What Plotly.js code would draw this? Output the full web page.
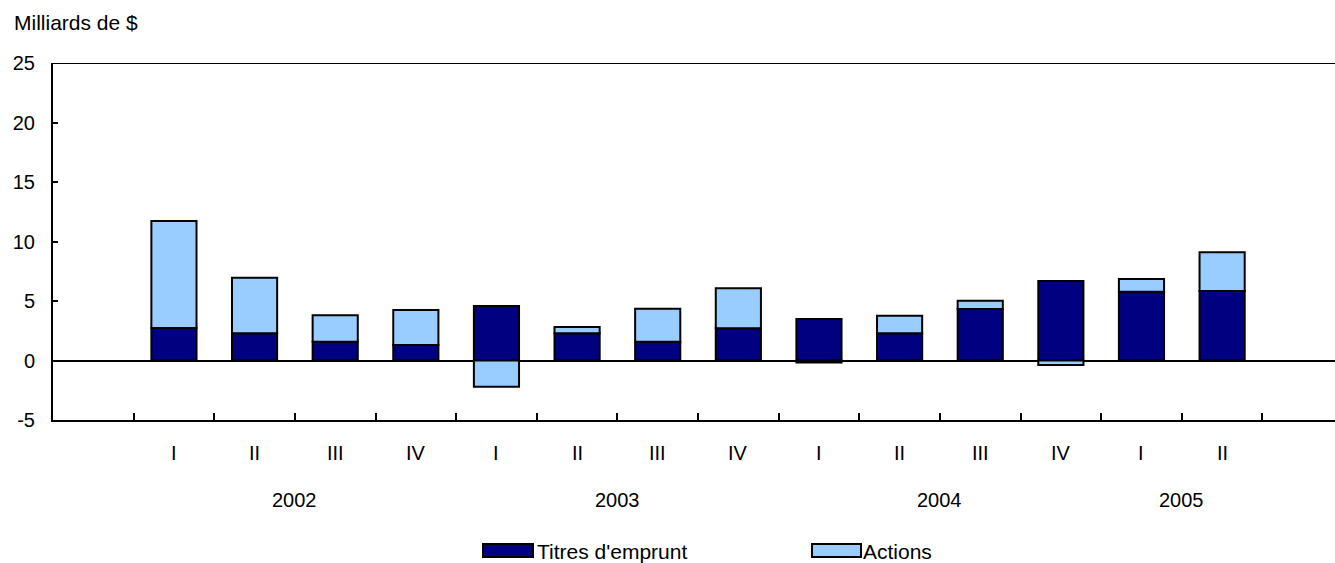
<!DOCTYPE html>
<html>
<head>
<meta charset="utf-8">
<script src="https://cdn.plot.ly/plotly-3.0.1.min.js"></script>
<style>html,body{margin:0;padding:0;background:#fff;}#chart{width:1335px;height:563px;}</style>
</head>
<body>
<div id="chart"></div>
<script>
var quarters = ["I","II","III","IV","I","II","III","IV","I","II","III","IV","I","II"];
var years = ["2002","2003","2004","2005"];
var yearCenters = [1.5, 5.5, 9.5, 12.5];
var titres = [2.73, 2.28, 1.58, 1.30, 4.58, 2.28, 1.58, 2.71, 3.49, 2.28, 4.33, 6.68, 5.78, 5.84];
var actions = [8.99, 4.68, 2.22, 2.94, -2.20, 0.54, 2.77, 3.36, -0.16, 1.49, 0.70, -0.38, 1.07, 3.25];
var yTicks = [-5, 0, 5, 10, 15, 20, 25];
var yTickLabels = ["-5", "0", "5", "10", "15", "20", "25"];

var xIdx = quarters.map(function(q, i){ return i; });
var boundaries = xIdx.map(function(i){ return i - 0.5; }).concat([xIdx.length - 0.5]);

var fontFam = "Liberation Sans, Arial, sans-serif";
var FS = 20;
var L = 53, plotW = 1282, T = 63, plotH = 357;
function px(x){ return (x - L) / plotW; }
function py(y){ return (T + plotH - y) / plotH; }

var traces = [
  {type: "bar", x: xIdx, y: titres, name: "Titres d'emprunt", width: 0.56,
   marker: {color: "#000080", line: {color: "#000000", width: 2}}, hoverinfo: "y"},
  {type: "bar", x: xIdx, y: actions, name: "Actions", width: 0.56,
   marker: {color: "#99CCFF", line: {color: "#000000", width: 2}}, hoverinfo: "y"}
];

var annotations = [];
quarters.forEach(function(q, i){
  annotations.push({x: i, xref: "x", y: py(453), yref: "paper", text: q, showarrow: false,
    font: {family: fontFam, size: FS, color: "#000"}, xanchor: "center", yanchor: "middle"});
});
years.forEach(function(yr, i){
  annotations.push({x: yearCenters[i], xref: "x", y: py(500), yref: "paper", text: yr, showarrow: false,
    font: {family: fontFam, size: FS, color: "#000"}, xanchor: "center", yanchor: "middle"});
});
annotations.push({x: px(12), xref: "paper", y: py(23), yref: "paper", text: "Milliards de $", showarrow: false,
  font: {family: fontFam, size: FS + 1, color: "#000"}, xanchor: "left", yanchor: "middle"});
annotations.push({x: px(535), xref: "paper", y: py(551), yref: "paper", text: traces[0].name, showarrow: false,
  font: {family: fontFam, size: FS + 1, color: "#000"}, xanchor: "left", yanchor: "middle"});
annotations.push({x: px(861), xref: "paper", y: py(551), yref: "paper", text: traces[1].name, showarrow: false,
  font: {family: fontFam, size: FS + 1, color: "#000"}, xanchor: "left", yanchor: "middle"});

var shapes = [
  {type: "line", xref: "paper", yref: "y", x0: 0, x1: 1, y0: 25, y1: 25, line: {color: "#000", width: 2}},
  {type: "rect", xref: "paper", yref: "paper", x0: px(483), x1: px(533), y0: py(557), y1: py(544),
   fillcolor: "#000080", line: {color: "#000", width: 2}},
  {type: "rect", xref: "paper", yref: "paper", x0: px(812), x1: px(861), y0: py(557), y1: py(544),
   fillcolor: "#99CCFF", line: {color: "#000", width: 2}}
];

var layout = {
  width: 1335, height: 563,
  margin: {l: L, r: 0, t: T, b: 563 - T - plotH, pad: 0},
  paper_bgcolor: "#fff", plot_bgcolor: "#fff",
  barmode: "relative", bargap: 0,
  showlegend: false,
  font: {family: fontFam, size: FS, color: "#000"},
  xaxis: {range: [-1.5, 14.4], tickvals: boundaries, ticktext: boundaries.map(function(){ return ""; }),
    ticks: "inside", ticklen: 7, tickwidth: 2, tickcolor: "#000",
    showline: true, linecolor: "#000", linewidth: 2, showgrid: false, zeroline: false, fixedrange: true},
  yaxis: {range: [-5, 25], tickvals: yTicks, ticktext: yTickLabels, ticks: "inside", ticklen: 5, tickwidth: 2, tickcolor: "#000",
    showline: true, linecolor: "#000", linewidth: 2, showgrid: false,
    zeroline: true, zerolinecolor: "#000", zerolinewidth: 2,
    tickfont: {family: fontFam, size: FS, color: "#000"}, ticklabelstandoff: 12, fixedrange: true},
  annotations: annotations,
  shapes: shapes
};

Plotly.newPlot("chart", traces, layout, {displayModeBar: false, staticPlot: true});
</script>
</body>
</html>
